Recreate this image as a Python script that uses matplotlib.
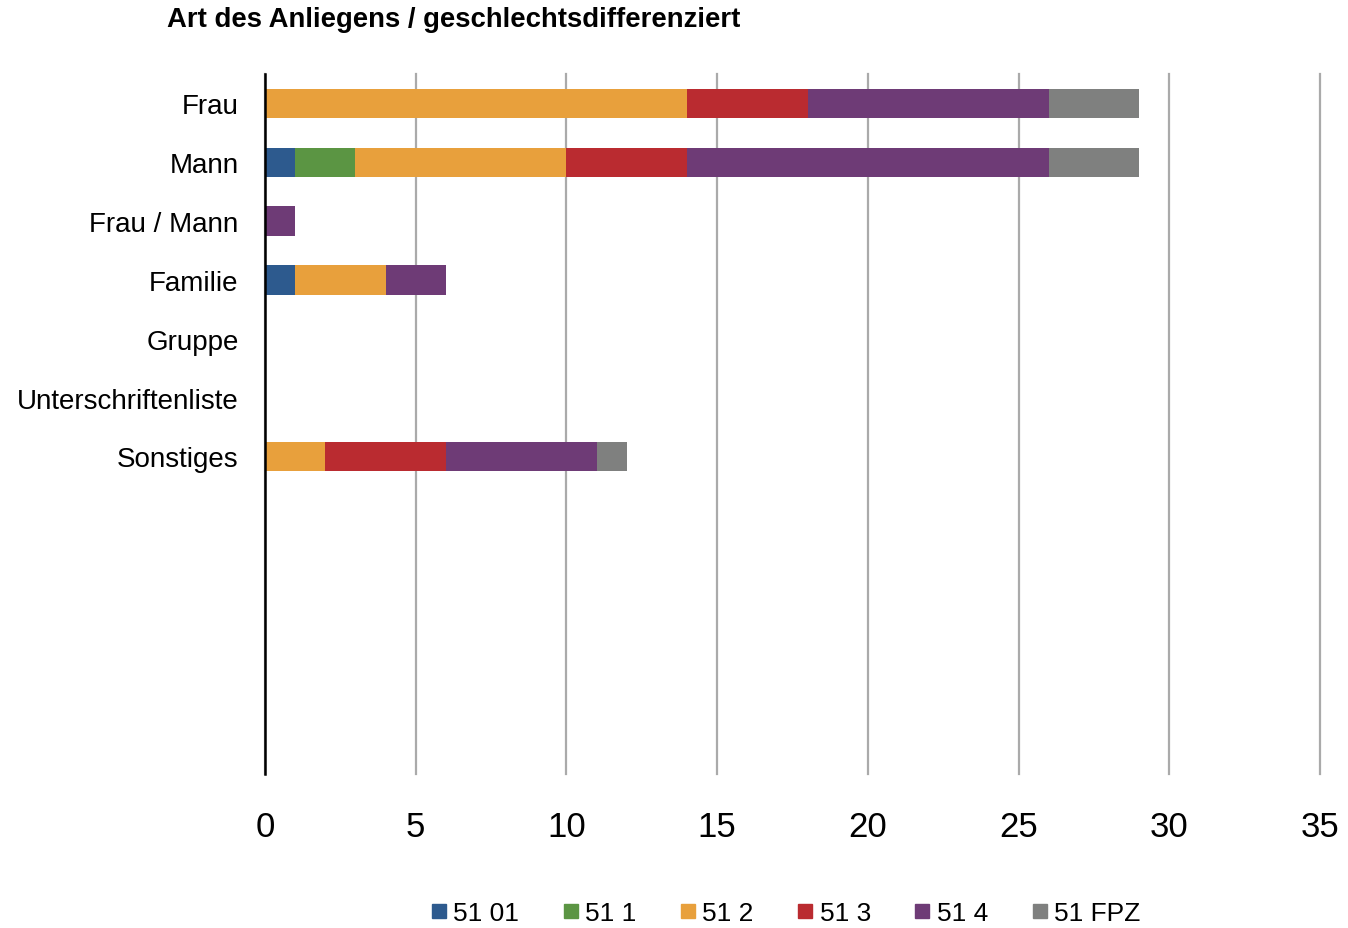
import matplotlib
matplotlib.use("Agg")
import matplotlib.pyplot as plt
from matplotlib.lines import Line2D
import numpy as np

plt.rcParams["font.family"] = ["Liberation Sans", "DejaVu Sans"]

categories = ["Frau", "Mann", "Frau / Mann", "Familie", "Gruppe",
              "Unterschriftenliste", "Sonstiges"]
series = ["51 01", "51 1", "51 2", "51 3", "51 4", "51 FPZ"]
values = {
    "51 01": [0, 1, 0, 1, 0, 0, 0],
    "51 1": [0, 2, 0, 0, 0, 0, 0],
    "51 2": [14, 7, 0, 3, 0, 0, 2],
    "51 3": [4, 4, 0, 0, 0, 0, 4],
    "51 4": [8, 12, 1, 2, 0, 0, 5],
    "51 FPZ": [3, 3, 0, 0, 0, 0, 1],
}
colors = ["#2D5A8E", "#5B9543", "#E8A03C", "#BA2B30", "#6E3B76", "#7F807F"]
xticks = [0, 5, 10, 15, 20, 25, 30, 35]

fig = plt.figure(figsize=(13.48, 9.29), dpi=100)
ax = fig.add_axes([265 / 1348, 1 - 775 / 929, 1055 / 1348, 700 / 929])

y = np.arange(len(categories))
left = np.zeros(len(categories))
for name, col in zip(series, colors):
    v = np.array(values[name], dtype=float)
    ax.barh(y, v, left=left, height=0.5, color=col, zorder=3)
    left += v

ax.set_xlim(0, 35)
ax.set_ylim(11.4, -0.5)
ax.set_xticks(xticks)
ax.set_xticklabels([str(t) for t in xticks], fontsize=25)
ax.set_yticks(y)
ax.set_yticklabels(categories, fontsize=20)
ax.tick_params(axis="x", length=0, pad=26)
ax.tick_params(axis="y", length=0, pad=19)
ax.xaxis.grid(True, color="#AAAAAA", linewidth=1.6, zorder=0)
for line in ax.get_xgridlines():
    line.set_clip_on(False)
for s in ["top", "right", "bottom"]:
    ax.spines[s].set_visible(False)
ax.spines["left"].set_linewidth(1.8)
ax.spines["left"].set_zorder(4)

fig.text(167 / 1348, 1 - 20 / 929, "Art des Anliegens / geschlechtsdifferenziert",
         fontsize=19.8, fontweight="bold", ha="left", va="center")

handles = [Line2D([], [], marker="s", linestyle="none", markersize=10,
                  markerfacecolor=c, markeredgecolor=c) for c in colors]
fig.legend(handles, series, loc="center", bbox_to_anchor=(785 / 1348, 1 - 914 / 929),
           ncol=6, frameon=False, fontsize=19, handletextpad=0.2,
           columnspacing=1.6, handlelength=0.7)

fig.savefig("out.png", dpi=100)
